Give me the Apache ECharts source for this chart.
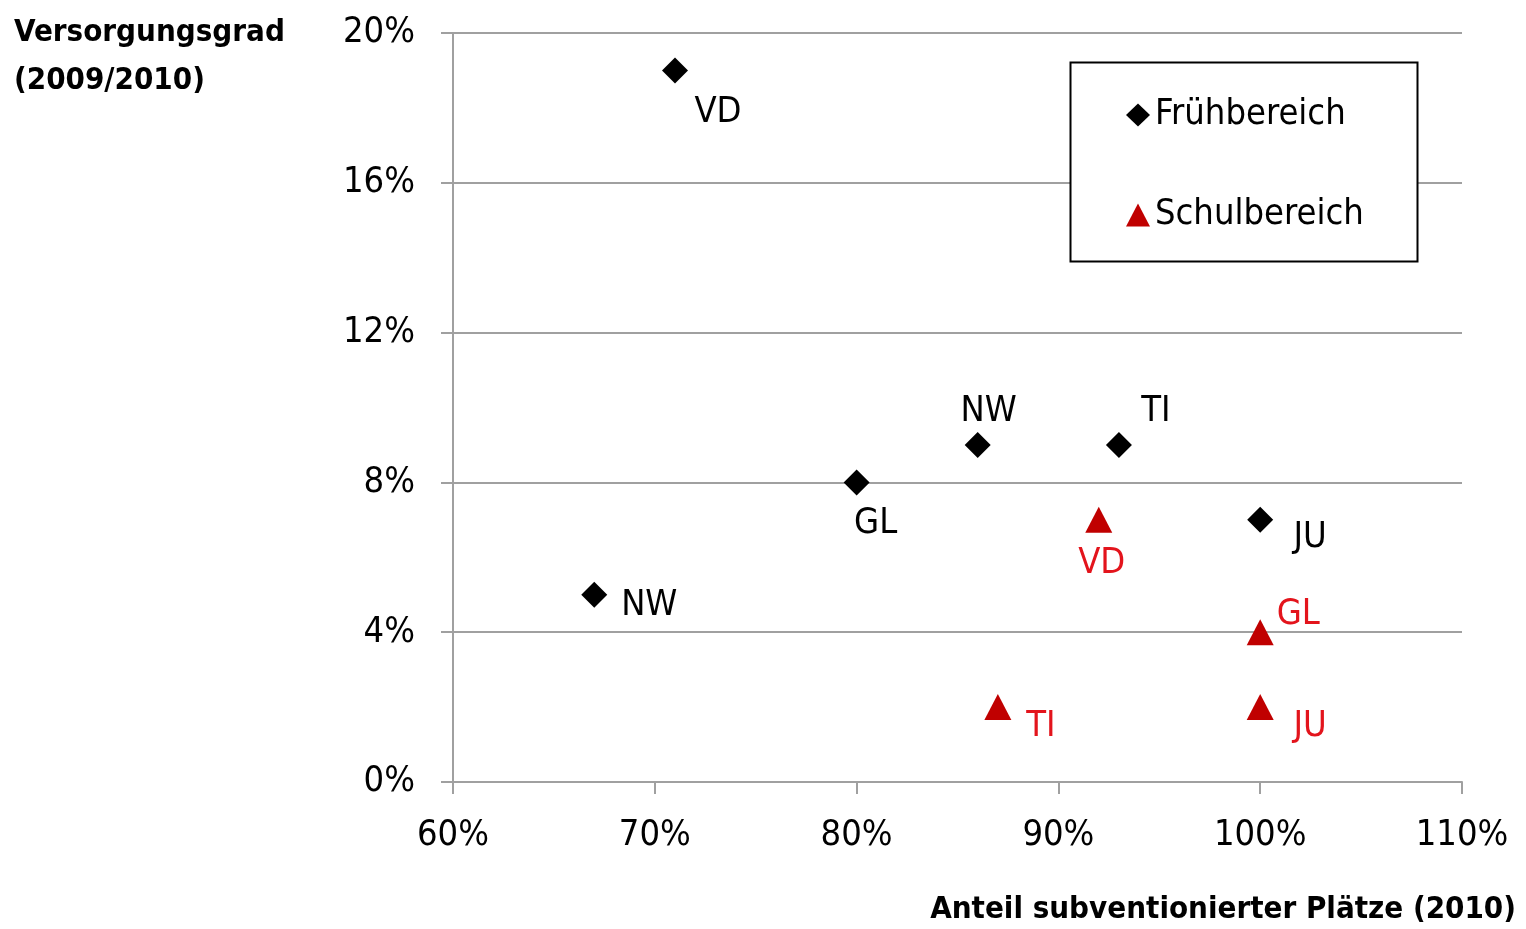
<!DOCTYPE html>
<html>
<head>
<meta charset="utf-8">
<script src="https://cdn.jsdelivr.net/npm/echarts@6/dist/echarts.min.js"></script>
<style>
  html, body { margin: 0; padding: 0; background: #fff; }
  #chart { width: 1526px; height: 929px; }
</style>
</head>
<body>
<div id="chart"></div>
<script>
// Cantons and their values (x: share of subsidised places 2010, y: coverage 2009/2010), in percent
const fruehLabels = ['VD', 'NW', 'TI', 'GL', 'JU', 'NW'];
const fruehX = [71, 86, 93, 80, 100, 67];
const fruehY = [19, 9, 9, 8, 7, 5];

const schulLabels = ['VD', 'GL', 'TI', 'JU'];
const schulX = [92, 100, 87, 100];
const schulY = [7, 4, 2, 2];

const seriesNames = ['Frühbereich', 'Schulbereich'];
const xTicks = [60, 70, 80, 90, 100, 110];
const yTicks = [0, 4, 8, 12, 16, 20];

// label offsets (px) from each marker centre
const fruehLabelOffsets = [[43, 42], [11, -33], [37, -33], [19, 41], [50, 18], [55, 11]];
const schulLabelOffsets = [[3, 44], [38, -18], [43, 20], [50, 20]];

const FONT = '"DejaVu Sans Condensed", "Liberation Sans Narrow", sans-serif';
const RED_MARK = '#c00000';
const RED_TEXT = '#e3141c';
const GREY = '#a0a0a0';

function buildData(xs, ys, labels, offsets) {
  return xs.map((x, i) => ({
    value: [x, ys[i]],
    name: labels[i],
    label: { offset: offsets[i] }
  }));
}

const chart = echarts.init(document.getElementById('chart'), null, { renderer: 'canvas' });

chart.setOption({
  animation: false,
  backgroundColor: '#fff',
  textStyle: { fontFamily: FONT },
  title: [
    {
      text: 'Versorgungsgrad\n(2009/2010)',
      left: 9, top: 4,
      textStyle: { fontFamily: FONT, fontWeight: 'bold', fontSize: 31, lineHeight: 48, color: '#000' }
    },
    {
      text: 'Anteil subventionierter Plätze (2010)',
      right: 5, top: 889,
      textStyle: { fontFamily: FONT, fontWeight: 'bold', fontSize: 31, color: '#000' }
    }
  ],
  grid: { left: 453, right: 64, top: 33, bottom: 147, containLabel: false },
  xAxis: {
    type: 'value',
    min: xTicks[0], max: xTicks[xTicks.length - 1], interval: 10,
    axisLine: { show: true, lineStyle: { color: GREY, width: 2 } },
    axisTick: { show: true, length: 12, lineStyle: { color: GREY, width: 2 } },
    splitLine: { show: false },
    axisLabel: { margin: 36, fontSize: 36, color: '#000', fontFamily: FONT, formatter: v => v + '%' }
  },
  yAxis: {
    type: 'value',
    min: yTicks[0], max: yTicks[yTicks.length - 1], interval: 4,
    axisLine: { show: true, lineStyle: { color: GREY, width: 2 } },
    axisTick: { show: true, length: 12, lineStyle: { color: GREY, width: 2 } },
    splitLine: { show: true, lineStyle: { color: GREY, width: 2 } },
    axisLabel: { margin: 38, fontSize: 36, color: '#000', fontFamily: FONT, formatter: v => v + '%' }
  },
  legend: {
    orient: 'vertical',
    left: 1121, top: 92,
    itemGap: 64,
    itemWidth: 24, itemHeight: 23,
    z: 110,
    textStyle: { fontSize: 36, color: '#000', fontFamily: FONT },
    data: [
      { name: seriesNames[0], icon: 'diamond' },
      { name: seriesNames[1], icon: 'triangle' }
    ]
  },
  graphic: {
    elements: [{
      type: 'rect', z: 100,
      shape: { x: 1070.5, y: 62.5, width: 347, height: 199 },
      style: { fill: '#fff', stroke: '#000', lineWidth: 2 }
    }]
  },
  series: [
    {
      name: seriesNames[0],
      type: 'scatter',
      symbol: 'diamond',
      symbolSize: 26,
      itemStyle: { color: '#000', opacity: 1 },
      label: {
        show: true, position: 'inside', formatter: '{b}',
        fontSize: 36, color: '#000', fontFamily: FONT, opacity: 1
      },
      data: buildData(fruehX, fruehY, fruehLabels, fruehLabelOffsets)
    },
    {
      name: seriesNames[1],
      type: 'scatter',
      symbol: 'triangle',
      symbolSize: [27, 26],
      itemStyle: { color: RED_MARK, opacity: 1 },
      label: {
        show: true, position: 'inside', formatter: '{b}',
        fontSize: 36, color: RED_TEXT, fontFamily: FONT, opacity: 1
      },
      data: buildData(schulX, schulY, schulLabels, schulLabelOffsets)
    }
  ]
});
</script>
</body>
</html>
